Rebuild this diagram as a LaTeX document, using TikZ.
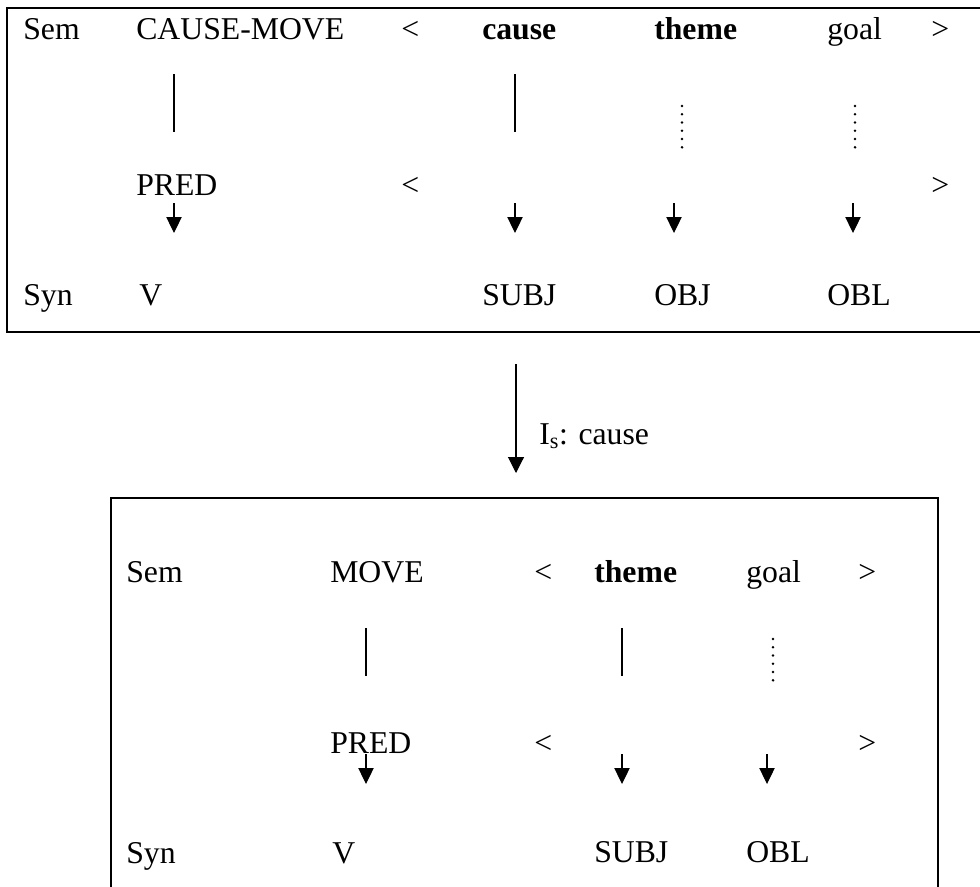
\documentclass[tikz,border=0pt]{standalone}
\usepackage{fontspec}
\setmainfont{Liberation Serif}
\usetikzlibrary{arrows.meta}

\begin{document}
\begin{tikzpicture}[x=0.75pt,y=-0.75pt,
    every node/.style={inner sep=0pt,anchor=base west,font=\fontsize{23.8}{28}\selectfont},
    frame/.style={line width=1.6pt},
    link/.style={line width=0.8pt},
    weak/.style={line width=2.1pt,line cap=round,dash pattern=on 0pt off 6.2pt},
    map/.style={line width=0.8pt,-{Triangle[length=12pt,width=11.5pt]}}]
    \useasboundingbox (0,0) rectangle (980,886);

    % before: CAUSE-MOVE
    \draw[frame] (981,8) -- (7,8) -- (7,332) -- (981,332);
    \node (sem)   at (23,39)  {Sem};
    \node (cmove) at (136,39) {CAUSE-MOVE};
    \node (lta)   at (401,39) {<};
    \node (cause) at (482,39) {\textbf{cause}};
    \node (theme) at (654,39) {\textbf{theme}};
    \node (goal)  at (827,39) {goal};
    \node (gta)   at (931,39) {>};
    \node (pred)  at (136,195) {PRED};
    \node (ltb)   at (401,195) {<};
    \node (gtb)   at (931,195) {>};
    \node (syn)   at (23,305)  {Syn};
    \node (verb)  at (139,305) {V};
    \node (subj)  at (482,305) {SUBJ};
    \node (obj)   at (654,305) {OBJ};
    \node (obl)   at (827,305) {OBL};

    \coordinate (la1) at (174,74);  \coordinate (la2) at (174,132);
    \coordinate (lb1) at (515,74);  \coordinate (lb2) at (515,132);
    \coordinate (lc1) at (682,106); \coordinate (lc2) at (682,148);
    \coordinate (ld1) at (855,106); \coordinate (ld2) at (855,148);
    \draw[link] (la1) -- (la2);
    \draw[link] (lb1) -- (lb2);
    \draw[weak] (lc1) -- (lc2);
    \draw[weak] (ld1) -- (ld2);

    \coordinate (aa1) at (174,203); \coordinate (aa2) at (174,233);
    \coordinate (ab1) at (515,203); \coordinate (ab2) at (515,233);
    \coordinate (ac1) at (674,203); \coordinate (ac2) at (674,233);
    \coordinate (ad1) at (853,203); \coordinate (ad2) at (853,233);
    \draw[map] (aa1) -- (aa2);
    \draw[map] (ab1) -- (ab2);
    \draw[map] (ac1) -- (ac2);
    \draw[map] (ad1) -- (ad2);

    % step between the two
    \coordinate (step1) at (516,364);
    \coordinate (step2) at (516,473);
    \draw[line width=0.8pt,-{Triangle[length=12pt,width=12pt]}] (step1) -- (step2);
    \node (stepl) at (539,444) {I\textsubscript{s}: cause};

    % after: MOVE
    \draw[frame] (111,887) -- (111,498) -- (938,498) -- (938,887);
    \node (sem2)   at (126,582) {Sem};
    \node (move2)  at (330,582) {MOVE};
    \node (lta2)   at (534,582) {<};
    \node (theme2) at (594,582) {\textbf{theme}};
    \node (goal2)  at (746,582) {goal};
    \node (gta2)   at (858,582) {>};
    \node (pred2)  at (330,753) {PRED};
    \node (ltb2)   at (534,753) {<};
    \node (gtb2)   at (858,753) {>};
    \node (syn2)   at (126,863) {Syn};
    \node (verb2)  at (332,863) {V};
    \node (subj2)  at (594,862) {SUBJ};
    \node (obl2)   at (746,862) {OBL};

    \coordinate (le1) at (366,628); \coordinate (le2) at (366,676);
    \coordinate (lf1) at (622,628); \coordinate (lf2) at (622,676);
    \coordinate (lg1) at (773,639); \coordinate (lg2) at (773,682);
    \draw[link] (le1) -- (le2);
    \draw[link] (lf1) -- (lf2);
    \draw[weak] (lg1) -- (lg2);

    \coordinate (ae1) at (366,754); \coordinate (ae2) at (366,784);
    \coordinate (af1) at (622,754); \coordinate (af2) at (622,784);
    \coordinate (ag1) at (767,754); \coordinate (ag2) at (767,784);
    \draw[map] (ae1) -- (ae2);
    \draw[map] (af1) -- (af2);
    \draw[map] (ag1) -- (ag2);
\end{tikzpicture}
\end{document}
